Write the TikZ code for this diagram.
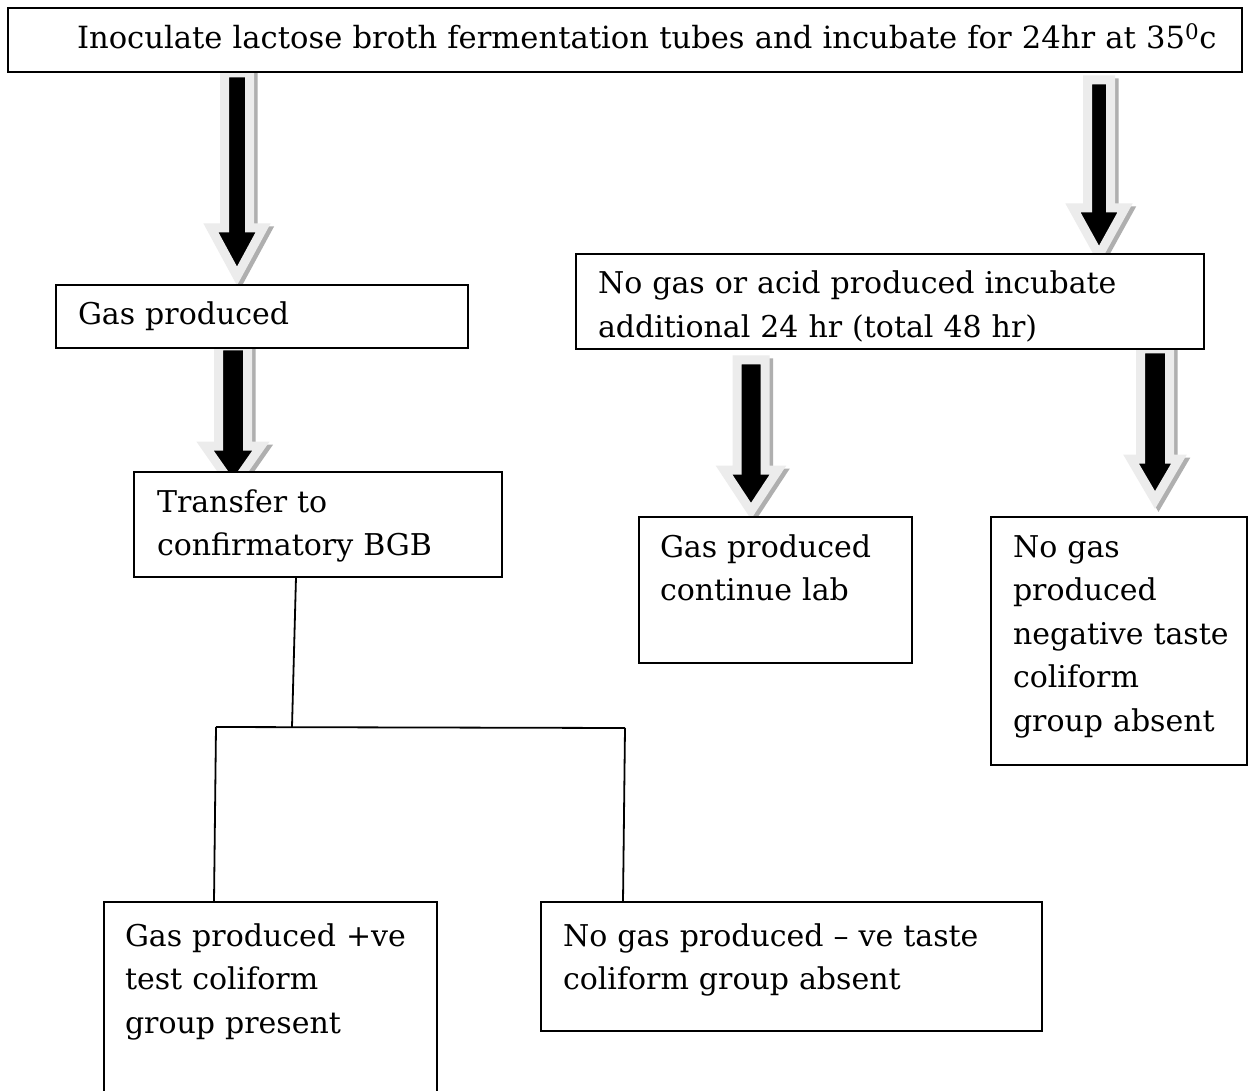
\documentclass[tikz,border=0pt]{standalone}
\usepackage{fontspec}
\setmainfont{DejaVu Serif}
\usetikzlibrary{calc}
\definecolor{arrline}{RGB}{236,236,236}
\definecolor{arrshade}{RGB}{175,175,175}
\tikzset{
  box/.style={draw=black, line width=2pt, fill=white, rectangle, inner sep=0pt, outer sep=0pt, anchor=north west},
  txt/.style={anchor=base west, inner sep=0pt, outer sep=0pt, align=left, text width=1200pt, font=\fontsize{30}{43.5}\selectfont},
  conn/.style={draw=black, line width=1.8pt},
  arrmain/.style={fill=black, draw=arrline, line width=9pt, line join=miter, miter limit=10},
  arrsh/.style={fill=arrshade, draw=arrshade, line width=9pt, line join=miter, miter limit=10}
}
% #1 style, #2 start, #3 end, #4 shaft hw, #5 head hw, #6 head length, #7 dx, #8 dy (canvas)
\newcommand{\arrshape}[8]{%
  \filldraw[#1] let \p1=(#2), \p2=(#3) in
    (\x1-#4+#7,\y1+#8) -- (\x1+#4+#7,\y1+#8) -- (\x1+#4+#7,\y2+#6+#8) -- (\x1+#5+#7,\y2+#6+#8) --
    (\x1+#7,\y2+#8) -- (\x1-#5+#7,\y2+#6+#8) -- (\x1-#4+#7,\y2+#6+#8) -- cycle;
}
\newcommand{\blockarrow}[5]{%
  \arrshape{arrsh}{#1}{#2}{#3}{#4}{#5}{3.5pt}{-3pt}%
  \arrshape{arrmain}{#1}{#2}{#3}{#4}{#5}{0pt}{0pt}%
}
\begin{document}
\begin{tikzpicture}[x=1pt, y=-1pt]
\useasboundingbox (0,0) rectangle (1248,1091);
\fill[white] (0,0) rectangle (1248,1091);

% arrow end points
\coordinate (a1s) at (237,73);  \coordinate (a1e) at (237,276);
\coordinate (a2s) at (1099,80); \coordinate (a2e) at (1099,255);
\coordinate (a3s) at (233,346); \coordinate (a3e) at (233,486);
\coordinate (a4s) at (751,360); \coordinate (a4e) at (751,511);
\coordinate (a5s) at (1155,349); \coordinate (a5e) at (1155,500);

\blockarrow{a1s}{a1e}{12.5pt}{26pt}{48pt}
\blockarrow{a2s}{a2e}{11.5pt}{26pt}{47pt}
\blockarrow{a3s}{a3e}{14.5pt}{28pt}{40pt}
\blockarrow{a4s}{a4e}{14pt}{27pt}{41pt}
\blockarrow{a5s}{a5e}{14.5pt}{24pt}{41pt}

% boxes
\node[box, minimum width=1234pt, minimum height=64pt] (top) at (8,8) {};
\node[box, minimum width=412pt, minimum height=63pt] (gp) at (56,285) {};
\node[box, minimum width=628pt, minimum height=95pt] (ng) at (576,254) {};
\node[box, minimum width=368pt, minimum height=105pt] (tr) at (134,472) {};
\node[box, minimum width=273pt, minimum height=146pt] (gc) at (639,517) {};
\node[box, minimum width=256pt, minimum height=248pt] (ngn) at (991,517) {};
\node[box, minimum width=333pt, minimum height=200pt] (pos) at (104,902) {};
\node[box, minimum width=501pt, minimum height=129pt] (neg) at (541,902) {};

% texts
\node[txt, font=\fontsize{30.6}{43.5}\selectfont] (ttop) at (77,49) {Inoculate lactose broth fermentation tubes and incubate for 24hr at 35\textsuperscript{0}c};
\node[txt] (tgp) at (78,325) {Gas produced};
\begin{scope}
  \clip (576,254) rectangle (1204,344);
  \node[txt] (tng) at (598,294) {No gas or acid produced incubate\\additional 24 hr (total 48 hr)};
\end{scope}
\node[txt] (ttr) at (157,512) {Transfer to\\confirmatory BGB};
\node[txt] (tgc) at (660,557) {Gas produced\\continue lab};
\node[txt] (tngn) at (1013,557) {No gas\\produced\\negative taste\\coliform\\group absent};
\node[txt] (tpos) at (125,946) {Gas produced +ve\\test coliform\\group present};
\node[txt] (tneg) at (563,946) {No gas produced -- ve taste\\coliform group absent};

% connectors
\coordinate (c0) at (296,577);
\coordinate (j) at (292,727);
\coordinate (jl) at (216,727);
\coordinate (jr) at (625,728);
\coordinate (pl) at (214,902);
\coordinate (pr) at (623,902);
\draw[conn] (c0) -- (j);
\draw[conn] (jl) -- (jr);
\draw[conn] (jl) -- (pl);
\draw[conn] (jr) -- (pr);
\end{tikzpicture}
\end{document}
